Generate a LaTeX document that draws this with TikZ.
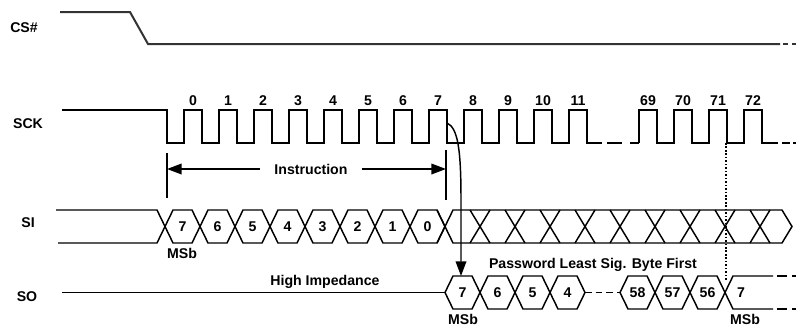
\documentclass[tikz,border=0pt]{standalone}
\usepackage{fontspec}
\setmainfont{Liberation Sans}
\usetikzlibrary{arrows.meta}
\begin{document}
\begin{tikzpicture}[x=0.75pt,y=-0.75pt,
  wave/.style={line width=1.1pt,line join=miter},
  cswave/.style={line width=1.5pt,draw=black!80},
  lbl/.style={font=\fontsize{10.6}{12}\selectfont\bfseries,inner sep=0pt},
  arr/.style={line width=1.1pt,-{Triangle[length=11pt,width=8pt]}},
  dotline/.style={line width=1pt,dash pattern=on 1.2pt off 1.4pt}]
\useasboundingbox (0,0) rectangle (796,326);
% signal names
\node[lbl] (lcs) at (24,28) {CS\#};
\node[lbl] (lsck) at (28,124) {SCK};
\node[lbl] (lsi) at (28,223) {SI};
\node[lbl] (lso) at (27,297) {SO};
% CS#
\draw[cswave] (60,12) -- (130,12) -- (148,44) -- (780,44);
\draw[cswave] (783,44) -- (788,44) (792,44) -- (796,44);
% SCK
\draw[wave] (62,110) -- (167,110) -- (167,143)
  \foreach \k in {0,...,11} { -- ({184+35*\k},143) -- ({184+35*\k},110) -- ({202+35*\k},110) -- ({202+35*\k},143) } -- (602,143);
\draw[wave] (607,143) -- (622,143) (630,143) -- (639,143);
\draw[wave] (639,143)
  \foreach \k in {0,...,3} { -- ({639+35*\k},143) -- ({639+35*\k},110) -- ({657+35*\k},110) -- ({657+35*\k},143) } -- (778,143);
\draw[wave] (782,143) -- (790,143) (793,143) -- (796,143);
\foreach \n [count=\i from 0] in {0,...,11} \node[lbl] (ck\n) at ({193+35*\i},101) {\n};
\foreach \n [count=\i from 0] in {69,70,71,72} \node[lbl] (ck\n) at ({648+35*\i},101) {\n};
% Instruction span
\draw[wave] (167,153) -- (167,198);
\draw[wave] (446,150) -- (446,200);
\coordinate (instrL) at (167,169);
\coordinate (instrR) at (446,169);
\node[lbl,inner xsep=10.5pt] (instr) at (311,169) {Instruction};
\draw[arr] (instr) -- (instrL);
\draw[arr] (instr) -- (instrR);
% SI
\draw[wave] (56,210) -- (157,210) -- (165,226.5);
\draw[wave] (58,243) -- (157,243) -- (165,226.5);
\foreach \b [count=\i from 0] in {7,6,5,4,3,2,1,0} {
  \draw[wave] ({165+35*\i},226.5) -- ({173+35*\i},210) -- ({192+35*\i},210) -- ({200+35*\i},226.5) -- ({192+35*\i},243) -- ({173+35*\i},243) -- cycle;
  \node[lbl] (si\b) at ({182.5+35*\i},227) {\b};
}
% don't care region
\draw[wave] (437,243) -- (453,210) -- (782,210) -- (792,226.5) -- (782,243) -- (453,243) -- (437,210);
\foreach \i in {1,...,9}
  \draw[wave] ({435+35*\i},210) -- ({455+35*\i},243) ({435+35*\i},243) -- ({455+35*\i},210);
\node[lbl] (msb1) at (182,253) {MSb};
% SO
\draw[wave] (62,292.5) -- (445,292.5);
\node[lbl] (hiz) at (325,282) {High Impedance};
\foreach \b [count=\i from 0] in {7,6,5,4} {
  \draw[wave] ({445+35*\i},292.5) -- ({453+35*\i},276) -- ({472+35*\i},276) -- ({480+35*\i},292.5) -- ({472+35*\i},309) -- ({453+35*\i},309) -- cycle;
  \node[lbl] (so\b) at ({462.5+35*\i},293) {\b};
}
\draw[wave,dash pattern=on 5pt off 3pt] (585,292.5) -- (620,292.5);
\foreach \b [count=\i from 0] in {58,57,56} {
  \draw[wave] ({620+35*\i},292.5) -- ({628+35*\i},276) -- ({647+35*\i},276) -- ({655+35*\i},292.5) -- ({647+35*\i},309) -- ({628+35*\i},309) -- cycle;
  \node[lbl] (so\b) at ({637.5+35*\i},293) {\b};
}
\draw[wave] (773,276) -- (733,276) -- (725,292.5) -- (733,309) -- (773,309);
\draw[wave] (777,276) -- (787,276) (792,276) -- (796,276);
\draw[wave] (777,309) -- (787,309) (792,309) -- (796,309);
\node[lbl] (sonext) at (741,293) {7};
\node[lbl] (pw) at (593,265) {Password Least Sig. Byte First};
\node[lbl] (msb2) at (463,319) {MSb};
\node[lbl] (msb3) at (745,319) {MSb};
% causal arrow and dotted marker
\coordinate (c7) at (447,123);
\coordinate (soin) at (461,276);
\draw[arr] (c7) .. controls (458,128) and (461,150) .. (461,200) -- (soin);
\coordinate (d1) at (726,143);
\coordinate (d2) at (726,280);
\draw[dotline] (d1) -- (d2);
\end{tikzpicture}
\end{document}
